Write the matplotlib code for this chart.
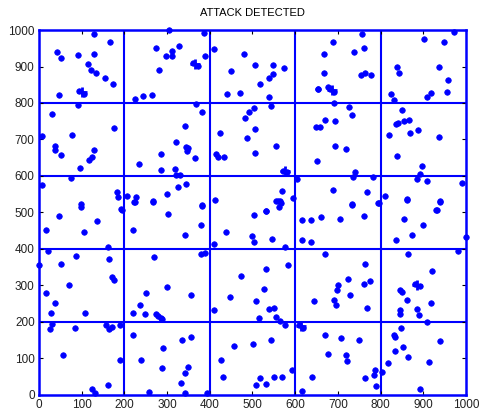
import matplotlib
matplotlib.use("Agg")
import matplotlib.pyplot as plt

plt.rcParams['font.family'] = ['Liberation Sans', 'DejaVu Sans']

# sensor nodes (x, y)
node_x = [128, 167, 42, 52, 91, 128, 116, 121, 133, 154, 174, 47, 95, 106, 91, 31, 7, 77, 176,
          38, 38, 52, 128, 124, 118, 96, 75, 7,
          304, 387, 274, 328, 311, 297, 311, 390, 360, 372, 282, 224, 244, 264, 367, 383, 341,
          285, 321, 344, 349, 346, 365, 235, 285, 318, 321, 330, 325, 344, 300, 383, 413,
          410, 450, 441, 470, 424, 415, 420, 434, 182, 186, 206, 227, 223, 267, 194,
          479, 506, 548, 573, 548, 538, 518, 539, 543, 504, 493, 483, 506, 488, 555, 506,
          571, 580, 605, 596, 568, 560, 564, 567, 531,
          757, 689, 762, 737, 668, 668, 755, 764, 778, 654, 676, 681, 691, 653,
          691, 727, 734, 670, 693, 649, 658, 693, 720, 651, 740, 735, 783, 688, 767, 732, 794,
          972, 902, 949, 838, 842, 937, 958, 918, 908, 955, 824, 831, 849, 836, 841, 854, 866,
          820, 869, 887, 937, 838, 896, 893, 884, 909, 990, 810, 861, 940, 933,
          98, 98, 47, 17, 105, 137, 193, 161, 21, 1, 52, 86, 163, 170, 175, 70, 17, 38, 28, 109,
          31, 26, 84, 158, 163, 170, 191, 56, 191, 161, 125, 131,
          224, 267, 302, 383, 220, 341, 380, 269, 380, 390, 300, 357, 251, 237, 220, 249,
          274, 280, 285, 288, 220, 336, 355, 290, 239, 288, 350, 341, 332, 258, 341, 393,
          410, 438, 410, 448, 473, 457, 427, 431,
          555, 562, 503, 532, 500, 504, 545, 577, 531, 584, 528, 508, 539, 550, 516, 556, 565,
          577, 502, 544, 592, 508, 518, 532, 550, 569,
          615, 636, 661, 704, 732, 760, 795, 616, 636, 670, 763, 723, 701, 697, 760, 775, 729,
          690, 695, 643, 769, 610, 618, 670, 708, 750, 676, 718, 722, 640, 616, 764, 786, 785,
          788, 804,
          861, 939, 929, 854, 898, 874, 835, 999, 981, 863, 921, 845, 850, 880, 892, 861, 845,
          845, 918, 886, 889, 908, 847, 831, 833, 853, 833, 863, 939, 914, 817, 891]
node_y = [990, 966, 939, 922, 931, 934, 908, 890, 881, 869, 851, 822, 834, 826, 794, 769, 710, 713, 731,
          683, 672, 657, 672, 651, 643, 622, 594, 575,
          999, 993, 952, 955, 943, 928, 928, 928, 910, 902, 890, 810, 819, 822, 796, 775, 736,
          660, 693, 680, 676, 668, 649, 633, 617, 618, 603, 604, 570, 578, 551, 519, 533,
          948, 887, 825, 828, 719, 660, 651, 653, 557, 542, 546, 542, 528, 529, 506,
          934, 905, 905, 895, 879, 869, 851, 817, 792, 787, 774, 760, 728, 705, 681, 662,
          613, 611, 593, 539, 560, 532, 532, 525, 505,
          990, 966, 951, 939, 934, 883, 878, 883, 878, 837, 843, 838, 830, 839,
          801, 789, 766, 754, 752, 734, 734, 681, 674, 642, 611, 597, 597, 562, 557, 521, 525,
          995, 975, 966, 898, 882, 898, 863, 828, 816, 831, 825, 809, 781, 742, 745, 751, 754,
          713, 719, 725, 707, 654, 628, 605, 593, 586, 581, 545, 537, 530, 507,
          524, 515, 490, 451, 446, 477, 510, 405, 394, 355, 360, 381, 372, 322, 314, 302, 278, 252, 225, 225,
          194, 181, 182, 191, 180, 185, 191, 108, 97, 27, 17, 6,
          530, 531, 495, 521, 451, 439, 466, 378, 387, 390, 295, 275, 278, 246, 225, 222,
          221, 216, 212, 208, 164, 150, 159, 129, 97, 73, 77, 61, 32, 9, 6, 6,
          413, 446, 232, 269, 325, 135, 97, 50,
          531, 516, 492, 504, 435, 418, 428, 405, 345, 355, 291, 258, 235, 238, 211, 214, 202,
          191, 139, 150, 67, 27, 45, 30, 50, 50,
          478, 478, 487, 483, 524, 490, 527, 425, 418, 387, 358, 317, 302, 287, 305, 311, 275,
          261, 246, 258, 238, 192, 184, 164, 157, 150, 112, 108, 94, 50, 10, 47, 67, 55,
          24, 64,
          533, 531, 507, 483, 466, 439, 425, 434, 395, 385, 340, 287, 282, 305, 298, 261, 234,
          223, 252, 235, 220, 200, 182, 165, 158, 130, 121, 103, 147, 90, 88, 15]

# cluster heads
head_x = [100, 366, 576, 686, 614, 885]
head_y = [830, 906, 614, 836, 188, 300]

grid_pos = [200, 400, 600, 800]

fig, ax = plt.subplots(figsize=(4.8, 4.17), dpi=100)
fig.subplots_adjust(left=0.081, right=0.971, top=0.928, bottom=0.053)

for g in grid_pos:
    ax.axvline(g, color='blue', lw=1.5, zorder=1)
    ax.axhline(g, color='blue', lw=1.5, zorder=1)

ax.plot(node_x, node_y, 'o', color='blue', ms=4.0, mew=0.5, mec='blue', clip_on=False, zorder=3)
ax.plot(head_x, head_y, '+', color='blue', ms=7, mew=2, clip_on=False, zorder=3)

ax.set_xlim(0, 1000)
ax.set_ylim(0, 1000)
ax.set_xticks(range(0, 1001, 100))
ax.set_yticks(range(0, 1001, 100))
ax.tick_params(direction='in', length=3, width=0.8, labelsize=8.5, pad=3,
               top=True, right=True, colors='black')
ax.tick_params(labelcolor='#222222')
for s in ax.spines.values():
    s.set_color('blue')
    s.set_linewidth(1.8)

ax.set_title("ATTACK DETECTED", fontsize=8, pad=10)

fig.savefig("out.png", dpi=100, facecolor='white')
